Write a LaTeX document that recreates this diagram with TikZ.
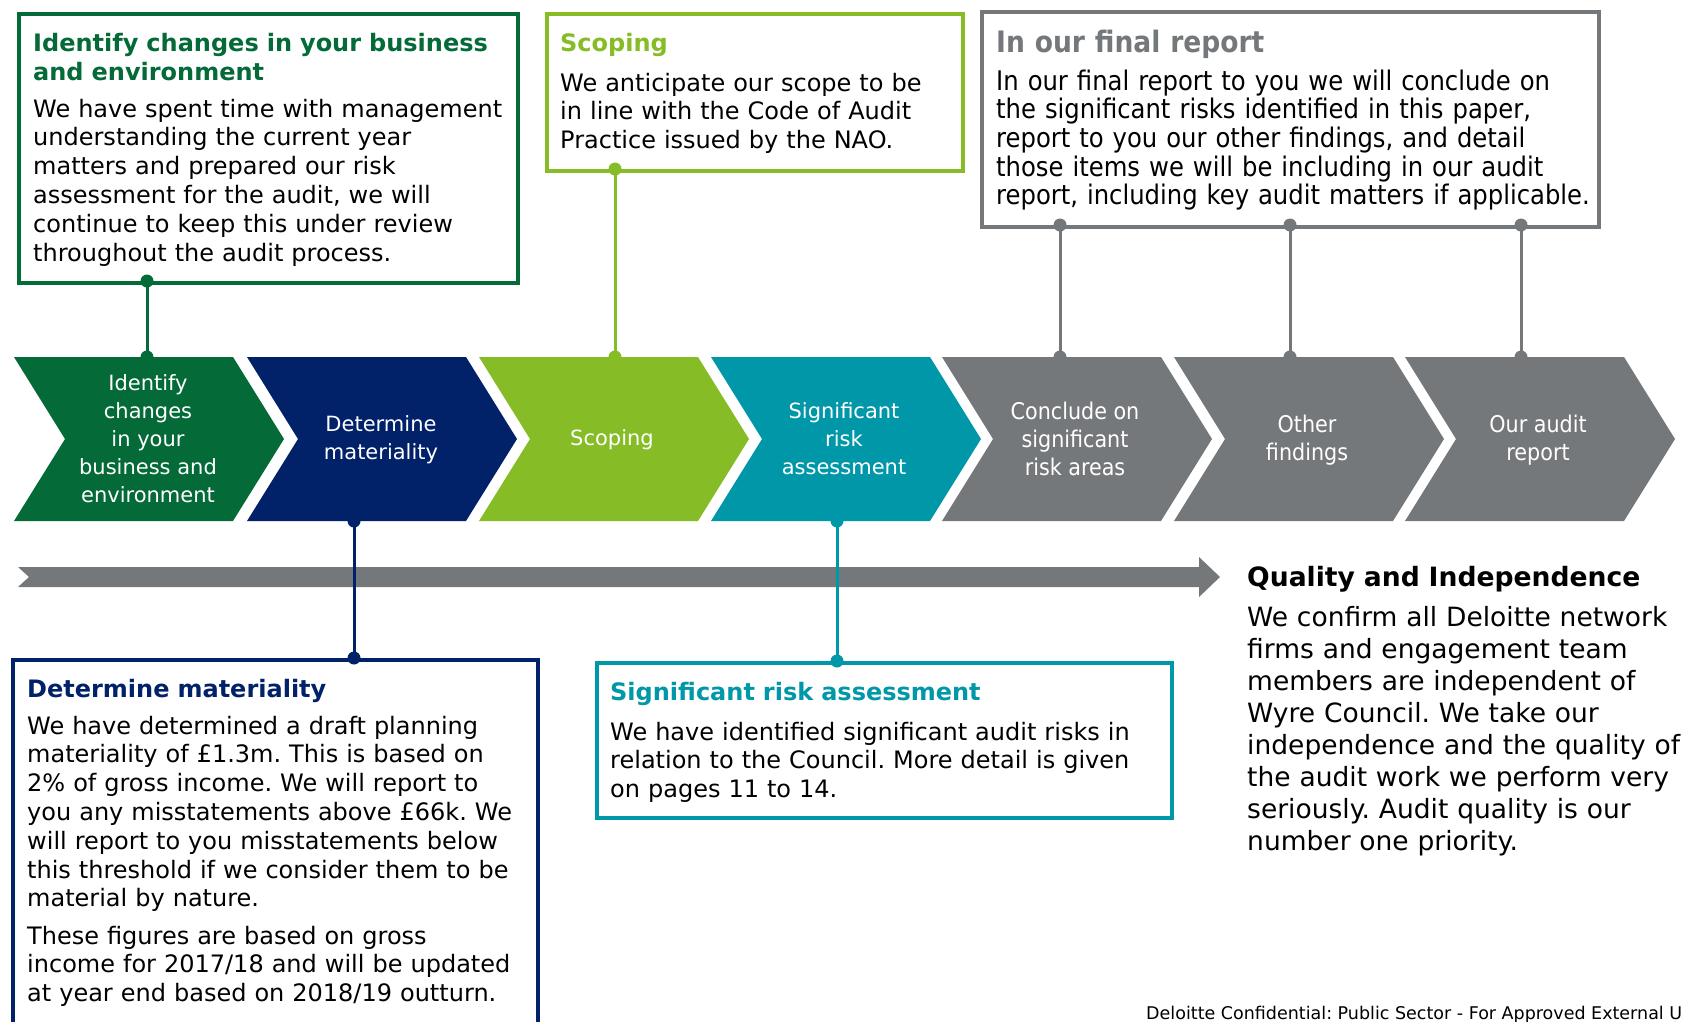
\documentclass[tikz,border=0pt]{standalone}
\usepackage{fontspec}
\setmainfont{DejaVu Sans}
\newfontfamily\condfont{DejaVu Sans Condensed}
\definecolor{dgreen}{HTML}{046A38}
\definecolor{dnavy}{HTML}{012169}
\definecolor{lgreen}{HTML}{86BC25}
\definecolor{dteal}{HTML}{0097A9}
\definecolor{dgray}{HTML}{75787B}
\newcommand\chevshape[2]{\fill[#2] (#1,357) -- ++(219,0) -- ++(51,82) -- ++(-51,82) -- ++(-219,0) -- ++(51,-82) -- cycle;}
\frenchspacing
\begin{document}
\frenchspacing
\begin{tikzpicture}[x=1pt,y=-1pt,
  chevtext/.style={text=white, align=center, inner sep=0, font=\fontsize{21}{28}\selectfont},
  chevgray/.style={text=white, align=center, inner sep=0, font=\condfont\fontsize{23}{28}\selectfont},
  boxframe/.style={draw, line width=3.5pt, rectangle, inner sep=0, anchor=north west},
  headtext/.style={anchor=base west, inner sep=0, align=left, text width=620pt, font=\bfseries\fontsize{24}{29}\selectfont},
  bodytext/.style={anchor=base west, inner sep=0, align=left, text width=620pt, font=\fontsize{24}{28.8}\selectfont},
  conn/.style={line width=3pt},
  cdot/.style={circle, fill, inner sep=0, minimum size=13pt}
]
\useasboundingbox (0,0) rectangle (1683,1021);
\fill[white] (0,0) rectangle (1683,1021);
\clip (0,0) rectangle (1683,1021);

% ---------- chevrons ----------
\chevshape{14}{dgreen}
\chevshape{247}{dnavy}
\chevshape{479}{lgreen}
\chevshape{711}{dteal}
\chevshape{942}{dgray}
\chevshape{1174}{dgray}
\chevshape{1405}{dgray}

\node[chevtext] (c1) at (148,439) {Identify\\changes\\in your\\business and\\environment};
\node[chevtext] (c2) at (381,440) {Determine\\materiality};
\node[chevtext] (c3) at (612,440) {Scoping};
\node[chevtext] (c4) at (844,439) {Significant\\risk\\assessment};
\node[chevgray] (c5) at (1075,439) {Conclude on\\significant\\risk areas};
\node[chevgray] (c6) at (1307,440) {Other\\findings};
\node[chevgray] (c7) at (1538,440) {Our audit\\report};

% ---------- timeline arrow ----------
\fill[dgray] (18,567) -- (1199,567) -- (1199,557) -- (1220,577) -- (1199,597) -- (1199,587) -- (18,587) -- (29,577) -- cycle;

% ---------- boxes ----------
\node[boxframe, draw=dgreen, minimum width=499pt, minimum height=269pt] (box1) at (17,12) {};
\node[boxframe, draw=lgreen, minimum width=416pt, minimum height=157pt] (box2) at (545,12) {};
\node[boxframe, draw=dgray, minimum width=617pt, minimum height=215pt] (box3) at (980,10) {};
\node[boxframe, draw=dnavy, minimum width=525pt, minimum height=420pt] (box4) at (11,658) {};
\node[boxframe, draw=dteal, minimum width=575pt, minimum height=155pt] (box5) at (595,661) {};

% ---------- box texts ----------
\node[headtext, text=dgreen] (h1) at (33,51) {Identify changes in your business\\and environment};
\node[bodytext] (t1) at (33,117) {We have spent time with management\\understanding the current year\\matters and prepared our risk\\assessment for the audit, we will\\continue to keep this under review\\throughout the audit process.};

\node[headtext, text=lgreen] (h2) at (560,51) {Scoping};
\node[bodytext] (t2) at (560,91) {We anticipate our scope to be\\in line with the Code of Audit\\Practice issued by the NAO.};

\node[headtext, text=dgray, font=\condfont\bfseries\fontsize{29.5}{31}\selectfont] (h3) at (996,52) {In our final report};
\node[bodytext, font=\condfont\fontsize{27}{28.7}\selectfont] (t3) at (996,90) {In our final report to you we will conclude on\\the significant risks identified in this paper,\\report to you our other findings, and detail\\those items we will be including in our audit\\report, including key audit matters if applicable.};

\node[headtext, text=dnavy] (h4) at (27,697) {Determine materiality};
\node[bodytext] (t4) at (27,734) {We have determined a draft planning\\materiality of £1.3m. This is based on\\2\% of gross income. We will report to\\you any misstatements above £66k. We\\will report to you misstatements below\\this threshold if we consider them to be\\material by nature.};
\node[bodytext] (t4b) at (27,944) {These figures are based on gross\\income for 2017/18 and will be updated\\at year end based on 2018/19 outturn.};

\node[headtext, text=dteal] (h5) at (610,700) {Significant risk assessment};
\node[bodytext] (t5) at (610,740) {We have identified significant audit risks in\\relation to the Council. More detail is given\\on pages 11 to 14.};

\node[headtext, font=\bfseries\fontsize{26.6}{30}\selectfont] (hq) at (1247,586) {Quality and Independence};
\node[bodytext, font=\fontsize{26.5}{32}\selectfont] (tq) at (1247,626) {We confirm all Deloitte network\\firms and engagement team\\members are independent of\\Wyre Council. We take our\\independence and the quality of\\the audit work we perform very\\seriously. Audit quality is our\\number one priority.};

\node[anchor=base west, inner sep=0, font=\fontsize{17.5}{20}\selectfont] (foot) at (1146,1019) {Deloitte Confidential: Public Sector - For Approved External Use};

% ---------- connector points ----------
\coordinate (p1a) at (147,281);  \coordinate (p1b) at (147,357);
\coordinate (p2a) at (615,169);  \coordinate (p2b) at (615,357);
\coordinate (p3a) at (1060,225); \coordinate (p3b) at (1060,357);
\coordinate (p4a) at (1290,225); \coordinate (p4b) at (1290,357);
\coordinate (p5a) at (1521,225); \coordinate (p5b) at (1521,357);
\coordinate (p6a) at (354,521);  \coordinate (p6b) at (354,658);
\coordinate (p7a) at (837,521);  \coordinate (p7b) at (837,661);

\draw[conn, dgreen] (p1a) -- (p1b);
\draw[conn, lgreen] (p2a) -- (p2b);
\draw[conn, dgray] (p3a) -- (p3b);
\draw[conn, dgray] (p4a) -- (p4b);
\draw[conn, dgray] (p5a) -- (p5b);
\draw[conn, dnavy] (p6a) -- (p6b);
\draw[conn, dteal] (p7a) -- (p7b);

\node[cdot, dgreen] (d1a) at (p1a) {}; \node[cdot, dgreen] (d1b) at (p1b) {};
\node[cdot, lgreen] (d2a) at (p2a) {}; \node[cdot, lgreen] (d2b) at (p2b) {};
\node[cdot, dgray] (d3a) at (p3a) {}; \node[cdot, dgray] (d3b) at (p3b) {};
\node[cdot, dgray] (d4a) at (p4a) {}; \node[cdot, dgray] (d4b) at (p4b) {};
\node[cdot, dgray] (d5a) at (p5a) {}; \node[cdot, dgray] (d5b) at (p5b) {};
\node[cdot, dnavy] (d6a) at (p6a) {}; \node[cdot, dnavy] (d6b) at (p6b) {};
\node[cdot, dteal] (d7a) at (p7a) {}; \node[cdot, dteal] (d7b) at (p7b) {};
\end{tikzpicture}
\end{document}
